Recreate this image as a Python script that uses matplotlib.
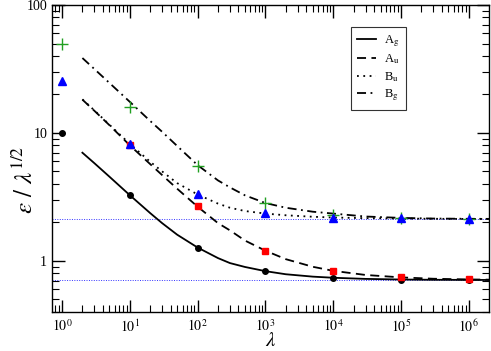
import matplotlib
matplotlib.use("Agg")
import matplotlib.pyplot as plt
from matplotlib.ticker import LogLocator, NullFormatter, FixedLocator

plt.rcParams['font.family'] = ['Liberation Serif', 'DejaVu Serif']
plt.rcParams['mathtext.fontset'] = 'stix'

# data points (markers)
lam_pts = [1, 10, 100, 1e3, 1e4, 1e5, 1e6]
Ag_pts = [10.0, 3.26, 1.27, 0.83, 0.736, 0.713, 0.708]
lam_au_pts = [10, 100, 1e3, 1e4, 1e5, 1e6]
Au_pts = [8.0, 2.67, 1.19, 0.835, 0.743, 0.716]
Bu_pts = [25.3, 8.2, 3.32, 2.35, 2.18, 2.15, 2.13]
Bg_pts = [50.0, 16.0, 5.5, 2.83, 2.3, 2.15, 2.13]

# curves
lam_curve = [2, 3, 5, 10, 20, 30, 50, 100, 200, 300, 500, 1e3, 2e3, 5e3, 1e4, 3e4, 1e5, 3e5, 1e6, 2e6]
Ag_curve = [7.0, 5.8, 4.55, 3.26, 2.36, 1.97, 1.6, 1.27, 1.05, 0.96, 0.895, 0.83, 0.785, 0.752, 0.737,
            0.722, 0.714, 0.7105, 0.709, 0.7085]
Au_curve = [18.2, 14.9, 11.5, 8.0, 5.7, 4.68, 3.66, 2.65, 1.97, 1.73, 1.44, 1.2, 1.03, 0.898, 0.835,
            0.775, 0.742, 0.724, 0.715, 0.712]
Bu_curve = [18.3, 15.0, 11.6, 8.2, 5.95, 5.0, 4.05, 3.3, 2.8, 2.6, 2.45, 2.34, 2.27, 2.21, 2.18,
            2.155, 2.14, 2.13, 2.125, 2.123]
Bg_curve = [38.5, 31.6, 24.6, 17.5, 12.4, 10.2, 7.9, 5.6, 4.25, 3.75, 3.25, 2.83, 2.6, 2.42, 2.34,
            2.22, 2.165, 2.14, 2.13, 2.127]

asymptotes = [0.7071, 2.1213]

labels = [r'A$_\mathrm{g}$', r'A$_\mathrm{u}$', r'B$_\mathrm{u}$', r'B$_\mathrm{g}$']

fig = plt.figure(figsize=(4.91, 3.51), dpi=100)
ax = fig.add_axes([52/491, 1-311.7/351, (489-52)/491, (311.7-5)/351])

for a in asymptotes:
    ax.axhline(a, color='#3333ff', lw=0.7, ls=(0, (1, 1.5)), zorder=1)

lw = 1.3
ax.plot(lam_curve, Ag_curve, color='black', lw=lw, ls='-', label=labels[0], zorder=2)
ax.plot(lam_curve, Au_curve, color='black', lw=lw, ls=(0, (5, 3)), label=labels[1], zorder=2)
ax.plot(lam_curve, Bu_curve, color='black', lw=lw, ls=(0, (1, 2.5)), label=labels[2], zorder=2)
ax.plot(lam_curve, Bg_curve, color='black', lw=lw, ls=(0, (5, 2.5, 1, 2.5)), label=labels[3], zorder=2)

ax.plot(lam_pts, Ag_pts, 'o', color='black', ms=4, ls='none', zorder=3)
ax.plot(lam_au_pts, Au_pts, 's', color='#ff0000', ms=4, ls='none', zorder=4)
ax.plot(lam_pts, Bg_pts, '+', color='#22a022', ms=8, mew=1.0, ls='none', zorder=5)
ax.plot(lam_pts, Bu_pts, '^', color='#0000ff', ms=6, ls='none', zorder=6)

ax.set_xscale('log')
ax.set_yscale('log')
ax.set_xlim(0.712, 1.99e6)
ax.set_ylim(0.4, 100)

ax.xaxis.set_major_locator(FixedLocator([1, 10, 100, 1e3, 1e4, 1e5, 1e6]))
ax.xaxis.set_minor_locator(LogLocator(base=10, subs=range(2, 10), numticks=20))
ax.xaxis.set_minor_formatter(NullFormatter())
ax.set_xticklabels([r'$10^{%d}$' % i for i in range(7)])
ax.yaxis.set_major_locator(FixedLocator([1, 10, 100]))
ax.yaxis.set_minor_locator(LogLocator(base=10, subs=range(2, 10), numticks=20))
ax.yaxis.set_minor_formatter(NullFormatter())
ax.set_yticklabels(['1', '10', '100'])

ax.tick_params(which='both', direction='in', top=True, right=True, labelsize=10)
ax.tick_params(which='major', length=9, width=1.0)
ax.tick_params(which='minor', length=5, width=0.8)
ax.tick_params(axis='x', pad=5)
for s in ax.spines.values():
    s.set_linewidth(1.0)

ax.set_xlabel(r'$\lambda$', fontsize=15)
ax.xaxis.set_label_coords(0.5, -(342 - 311.7) / 306.7)
ax.xaxis.label.set_verticalalignment('center')
ax.set_ylabel(r'$\varepsilon\ /\ \lambda^{1/2}$', fontsize=18)
ax.yaxis.set_label_coords(-(52 - 25) / 437, (311.7 - 180) / 306.7)
ax.yaxis.label.set_verticalalignment('center')

leg = ax.legend(loc='upper right', bbox_to_anchor=((406-52)/437, 1-(27-5)/306.7),
                borderaxespad=0, frameon=True, fancybox=False, edgecolor='black', fontsize=9,
                handlelength=1.5, borderpad=0.5, labelspacing=0.3, handletextpad=0.7)
leg.get_frame().set_linewidth(0.8)

fig.savefig('out.png', dpi=100)
